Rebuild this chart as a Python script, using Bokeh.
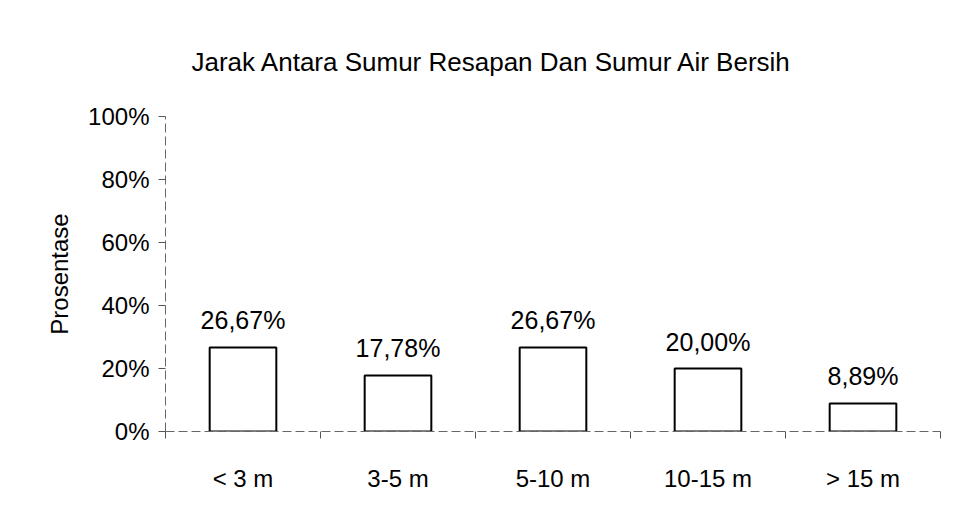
from bokeh.plotting import figure
from bokeh.models import FixedTicker, PrintfTickFormatter, ColumnDataSource, Range1d
from bokeh.core.properties import value
from bokeh.embed import file_html
from bokeh.resources import INLINE

categories = ["< 3 m", "3-5 m", "5-10 m", "10-15 m", "> 15 m"]
percentages = [26.67, 17.78, 26.67, 20.00, 8.89]
y_ticks = [0, 20, 40, 60, 80, 100]
title_text = "Jarak Antara Sumur Resapan Dan Sumur Air Bersih"
y_label = "Prosentase"

FONT = "Liberation Sans"

idx = list(range(len(categories)))
centers = [i + 0.5 for i in idx]
labels = [f"{v:.2f}%".replace(".", ",") for v in percentages]

src = ColumnDataSource(dict(x=centers, top=percentages, label=labels))

p = figure(width=944, height=512, output_backend="svg", toolbar_location=None,
           x_range=Range1d(0, len(categories)), y_range=Range1d(0, 100),
           min_border_left=165, min_border_right=4, min_border_top=116, min_border_bottom=81)
p.outline_line_color = None
p.grid.grid_line_color = None
p.background_fill_color = "white"
p.border_fill_color = "white"

p.title.text = title_text
p.title.align = "left"
p.title.offset = 26
p.title.standoff = 80
p.title.text_font = FONT
p.title.text_font_size = "26px"
p.title.text_font_style = "normal"
p.title.text_color = "black"

p.vbar(x="x", top="top", bottom=0, width=0.43, source=src,
       fill_color="white", line_color="black", line_width=2)

p.text(x="x", y="top", text="label", source=src, text_align="center",
       text_baseline="bottom", y_offset=-13, text_font=value(FONT),
       text_font_size="25px", text_color="black")

# x axis: labels at centers, ticks at category boundaries
p.xaxis.ticker = FixedTicker(ticks=centers, minor_ticks=[i for i in range(len(categories) + 1)])
p.xaxis.major_label_overrides = {c: cat for c, cat in zip(centers, categories)}
p.xaxis.major_tick_line_color = None
p.xaxis.minor_tick_line_color = "#555555"
p.xaxis.minor_tick_out = 7
p.xaxis.minor_tick_in = 0
p.xaxis.major_label_standoff = 26
p.xaxis.major_label_text_font = FONT
p.xaxis.major_label_text_font_size = "24px"
p.xaxis.major_label_text_color = "black"
p.xaxis.axis_line_color = "#666666"
p.xaxis.axis_line_dash = "9 4"

# y axis
p.yaxis.ticker = FixedTicker(ticks=y_ticks, minor_ticks=[])
p.yaxis.formatter = PrintfTickFormatter(format="%d%%")
p.yaxis.major_tick_out = 7
p.yaxis.major_tick_in = 0
p.yaxis.major_tick_line_color = "#555555"
p.yaxis.major_label_standoff = 9
p.yaxis.major_label_text_font = FONT
p.yaxis.major_label_text_font_size = "24px"
p.yaxis.major_label_text_color = "black"
p.yaxis.axis_line_color = "#666666"
p.yaxis.axis_line_dash = "9 4"
p.yaxis.axis_label = y_label
p.yaxis.axis_label_text_font = FONT
p.yaxis.axis_label_text_font_size = "24px"
p.yaxis.axis_label_text_font_style = "normal"
p.yaxis.axis_label_text_color = "black"
p.yaxis.axis_label_standoff = 12

open("out.html", "w").write(file_html(p, INLINE))
